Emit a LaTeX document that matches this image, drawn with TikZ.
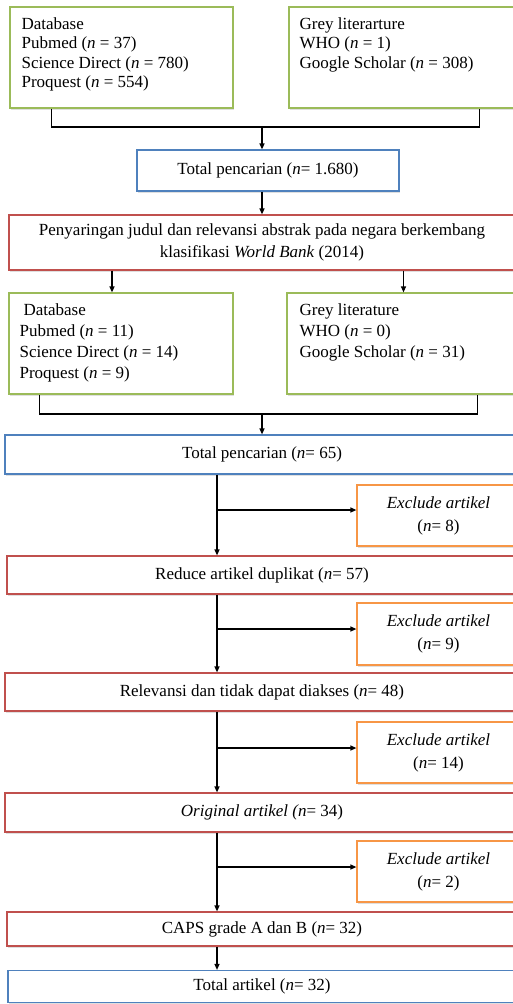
\documentclass[tikz,border=0pt]{standalone}
\usepackage{fontspec}
\setmainfont{Liberation Serif}
\usepackage{xcolor}
\usetikzlibrary{arrows.meta,calc,shadows,positioning}

\definecolor{boxgreen}{HTML}{9BBB59}
\definecolor{boxblue}{HTML}{4F81BD}
\definecolor{boxred}{HTML}{C0504D}
\definecolor{boxorange}{HTML}{F79646}

\begin{document}
\begin{tikzpicture}[
			x=1pt, y=-1pt,
			font=\fontsize{17pt}{19.5pt}\selectfont,
			box/.style={draw, line width=1.2pt, fill=white, inner sep=0pt,
				drop shadow={shadow xshift=1pt, shadow yshift=-1.5pt, opacity=0.25}},
			srcbox/.style={box, draw=boxgreen, minimum height=101pt},
			totbox/.style={box, draw=boxblue},
			redbox/.style={box, draw=boxred},
			exbox/.style={box, draw=boxorange, minimum width=163pt, align=center,
				font=\fontsize{17pt}{23pt}\selectfont},
			lst/.style={anchor=north west, align=left, inner sep=0pt},
			line/.style={line width=1.2pt},
			arr/.style={line, -{Triangle[length=6pt,width=5pt]}}
			]
			\useasboundingbox (0,0) rectangle (513,1004);
			% First search
			\node[srcbox, minimum width=223pt] (db1) at (121.5,57.5) {};
			\node[lst] (db1t) at ([xshift=12pt,yshift=-11pt]db1.north west) {Database\\Pubmed (\textit{n} = 37)\\Science Direct (\textit{n} = 780)\\Proquest (\textit{n} = 554)};
			\node[srcbox, minimum width=229pt] (gl1) at (403.5,57.5) {};
			\node[lst] (gl1t) at ([xshift=11pt,yshift=-11pt]gl1.north west) {Grey literarture\\WHO (\textit{n} = 1)\\Google Scholar (\textit{n} = 308)};
			\node[totbox, minimum width=262pt, minimum height=41pt] (tot1) at (268,170.5) {Total pencarian (\textit{n}= 1.680)};
			% Joining lines
			\coordinate (j1) at (262,127);
			\coordinate (d1) at ([xshift=42pt]db1.south west);
			\coordinate (g1) at ([xshift=191pt]gl1.south west);
			\draw[line] (d1) |- (j1) -| (g1);
			\draw[arr] (j1) -- (j1 |- tot1.north);
			% Screening
			\node[redbox, minimum width=506pt, minimum height=55pt, align=center,
				font=\fontsize{17pt}{21.5pt}\selectfont] (scr) at (262,242.5) {Penyaringan judul dan relevansi abstrak pada negara berkembang\\klasifikasi \textit{World Bank} (2014)};
			\draw[arr] (tot1.south -| scr.north) -- (scr.north);
			% Second search
			\node[srcbox, minimum width=224pt] (db2) at (121,343.5) {};
			\node[lst, font=\fontsize{17pt}{21pt}\selectfont] (db2t) at ([xshift=11pt,yshift=-11.5pt]db2.north west) {\hspace{4pt}Database\\Pubmed (\textit{n} = 11)\\Science Direct (\textit{n} = 14)\\Proquest (\textit{n} = 9)};
			\node[srcbox, minimum width=233pt] (gl2) at (403.5,343.5) {};
			\node[lst, font=\fontsize{17pt}{21pt}\selectfont] (gl2t) at ([xshift=13pt,yshift=-11.5pt]gl2.north west) {Grey literature\\WHO (\textit{n} = 0)\\Google Scholar (\textit{n} = 31)};
			\coordinate (d2top) at ([xshift=-9pt]db2.north);
			\draw[arr] (d2top |- scr.south) -- (d2top);
			\draw[arr] (gl2.north |- scr.south) -- (gl2.north);
			\node[totbox, minimum width=514pt, minimum height=39pt] (tot2) at (262,454.5) {Total pencarian (\textit{n}= 65)};
			\coordinate (j2) at (262,414);
			\coordinate (d2) at ([xshift=31pt]db2.south west);
			\coordinate (g2) at ([xshift=191pt]gl2.south west);
			\draw[line] (d2) |- (j2) -| (g2);
			\draw[arr] (j2) -- (tot2.north);
			% Selection steps
			\node[exbox, minimum height=61pt] (ex1) at (438.5,515.5) {\textit{Exclude artikel}\\(\textit{n}= 8)};
			\node[redbox, minimum width=510pt, minimum height=38pt] (red1) at (262,575) {Reduce artikel duplikat (\textit{n}= 57)};
			\node[exbox, minimum height=62pt] (ex2) at (438.5,634) {\textit{Exclude artikel}\\(\textit{n}= 9)};
			\node[redbox, minimum width=514pt, minimum height=38pt] (red2) at (262,692) {Relevansi dan tidak dapat diakses (\textit{n}= 48)};
			\node[exbox, minimum height=61pt] (ex3) at (438.5,752.5) {\textit{Exclude artikel}\\(\textit{n}= 14)};
			\node[redbox, minimum width=514pt, minimum height=39pt] (red3) at (262,812.5) {\textit{Original artikel (n}= 34)};
			\node[exbox, minimum height=61pt] (ex4) at (438.5,871.5) {\textit{Exclude artikel}\\(\textit{n}= 2)};
			\node[redbox, minimum width=510pt, minimum height=34pt] (red4) at (262,929) {CAPS grade A dan B (\textit{n}= 32)};
			\node[totbox, minimum width=508pt, minimum height=32pt] (tot3) at (262,986.5) {Total artikel (\textit{n}= 32)};
			% Main line
			\coordinate (sp) at (217,0);
			\draw[arr] (tot2.south -| sp) -- (red1.north -| sp);
			\draw[arr] (red1.south -| sp) -- (red2.north -| sp);
			\draw[arr] (red2.south -| sp) -- (red3.north -| sp);
			\draw[arr] (red3.south -| sp) -- (red4.north -| sp);
			\draw[arr] (red4.south -| sp) -- (tot3.north -| sp);
			% Exclusions
			\coordinate (b1) at (217,510);
			\coordinate (b2) at (217,629);
			\coordinate (b3) at (217,748);
			\coordinate (b4) at (217,867);
			\draw[arr] (b1) -- (b1 -| ex1.west);
			\draw[arr] (b2) -- (b2 -| ex2.west);
			\draw[arr] (b3) -- (b3 -| ex3.west);
			\draw[arr] (b4) -- (b4 -| ex4.west);
		\end{tikzpicture}
\end{document}
